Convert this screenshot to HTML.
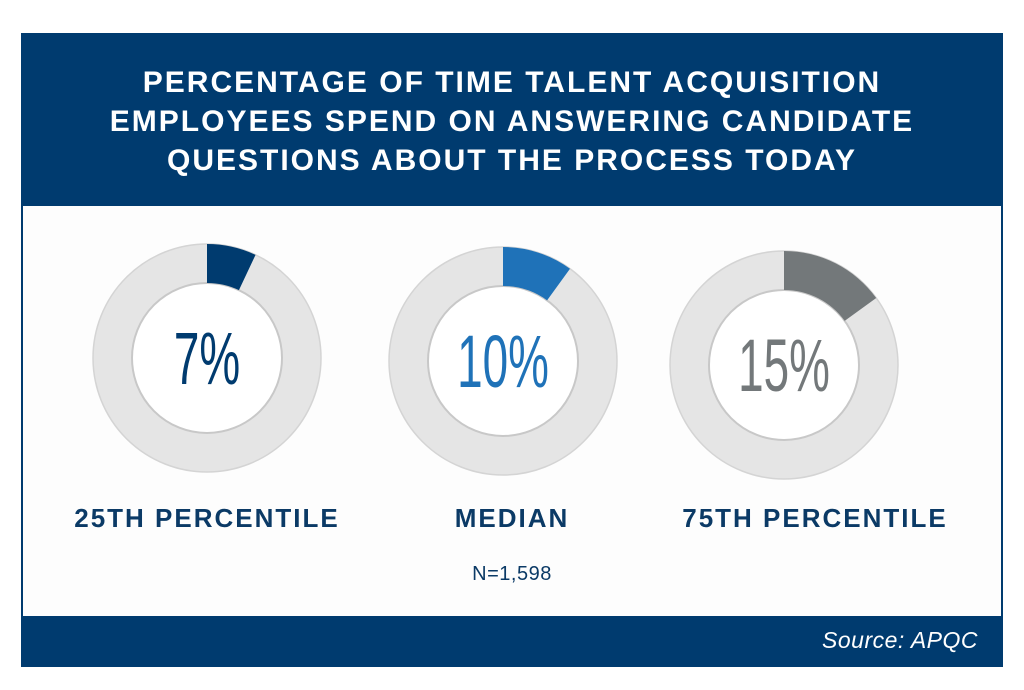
<!DOCTYPE html>
<html><head><meta charset="utf-8"><style>
html,body{margin:0;padding:0;background:#fff;}
svg{display:block;font-family:"Liberation Sans",sans-serif;}
</style></head><body>
<svg id="chart" width="1024" height="690" viewBox="0 0 1024 690">
<rect x="21" y="33" width="982" height="634" fill="#003b6f"/>
<rect x="23" y="206" width="978" height="410" fill="#fdfdfd"/>
<g fill="#fff" font-weight="bold" font-size="30" text-anchor="middle" letter-spacing="2">
<text x="512" y="92">PERCENTAGE OF TIME TALENT ACQUISITION</text>
<text x="512" y="131">EMPLOYEES SPEND ON ANSWERING CANDIDATE</text>
<text x="512" y="170">QUESTIONS ABOUT THE PROCESS TODAY</text>
</g>
<g id="donuts"></g>
<text x="512" y="580" text-anchor="middle" font-size="20" letter-spacing="0.5" fill="#0b3a66">N=1,598</text>
<text x="978" y="648" text-anchor="end" font-size="23" font-style="italic" letter-spacing="0.5" fill="#fff">Source: APQC</text>
</svg>
<script>
const labels=["25TH PERCENTILE","MEDIAN","75TH PERCENTILE"];
const values=[7,10,15];
const colors=["#003b6f","#1f72b8","#73787a"];
const cxs=[207,503,784];
const cys=[358,361,365];
const labelXs=[207,512,815];
const NS="http://www.w3.org/2000/svg";
const g=document.getElementById('donuts');
function mk(t,a){const e=document.createElementNS(NS,t);for(const k in a)e.setAttribute(k,a[k]);return e;}
const R=114,r=75;
function pt(cx,cy,rad,f){const a=f*2*Math.PI;return [cx+rad*Math.sin(a),cy-rad*Math.cos(a)];}
values.forEach((v,i)=>{
const cx=cxs[i],cy=cys[i];
const ring=mk('circle',{cx:cx,cy:cy,r:(R+r)/2,fill:'none',stroke:'#e5e5e5','stroke-width':R-r});


g.appendChild(ring);
const o=mk('circle',{cx:cx,cy:cy,r:R,fill:'none',stroke:'#d4d4d4','stroke-width':1.5});


g.appendChild(o);
const inn=mk('circle',{cx:cx,cy:cy,r:r,fill:'#fff',stroke:'#c8c8c8','stroke-width':2});


g.appendChild(inn);
const f=v/100;const [x1,y1]=pt(cx,cy,R,0),[x2,y2]=pt(cx,cy,R,f),[x3,y3]=pt(cx,cy,r,f),[x4,y4]=pt(cx,cy,r,0);
const large=f>0.5?1:0;
const p=mk('path',{d:`M${x1},${y1} A${R},${R} 0 ${large} 1 ${x2},${y2} L${x3},${y3} A${r},${r} 0 ${large} 0 ${x4},${y4} Z`,fill:colors[i]});


g.appendChild(p);
const t=mk('text',{x:0,y:0,'text-anchor':'middle','font-size':74,fill:colors[i],transform:`translate(${cx},${cy+26}) scale(0.62,1)`});
t.textContent=v+'%';


g.appendChild(t);
const l=mk('text',{x:labelXs[i],y:527,'text-anchor':'middle','font-size':26,'font-weight':'bold',fill:'#0b3a66','letter-spacing':'2'});
l.textContent=labels[i];


g.appendChild(l);
});
</script>
</body></html>
